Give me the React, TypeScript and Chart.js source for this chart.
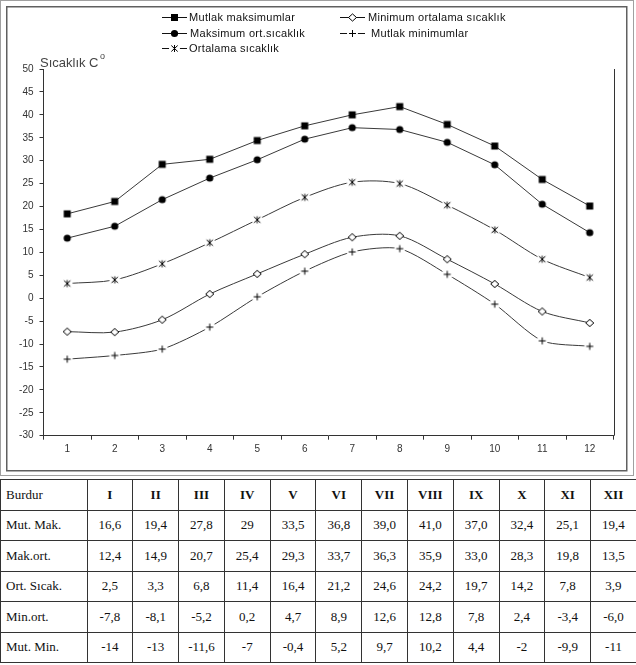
import React, { useEffect, useRef } from "react";
import { Chart, registerables } from "chart.js";

Chart.register(...registerables);

// ---- Chart data ----
const monthNumbers = ["1", "2", "3", "4", "5", "6", "7", "8", "9", "10", "11", "12"];
const mutlakMaksimumlar = [18.4, 21.1, 29.2, 30.3, 34.4, 37.6, 40.0, 41.8, 37.9, 33.2, 25.9, 20.1];
const maksimumOrtSicaklik = [13.1, 15.7, 21.5, 26.2, 30.2, 34.7, 37.2, 36.8, 34.0, 29.1, 20.5, 14.3];
const ortalamaSicaklik = [3.2, 4.0, 7.5, 12.1, 17.1, 22.0, 25.3, 25.0, 20.3, 14.9, 8.5, 4.5];
const minimumOrtalamaSicaklik = [-7.3, -7.4, -4.7, 0.9, 5.3, 9.6, 13.3, 13.6, 8.5, 3.1, -2.9, -5.4];
const mutlakMinimumlar = [-13.3, -12.5, -11.1, -6.3, 0.3, 5.9, 10.1, 10.8, 5.2, -1.3, -9.3, -10.5];

const seriesNames = [
  "Mutlak maksimumlar",
  "Maksimum ort.sıcaklık",
  "Ortalama sıcaklık",
  "Minimum ortalama sıcaklık",
  "Mutlak minimumlar",
];
const yTitle = "Sıcaklık C";
const yTitleSup = "o";

// ---- Table data ----
const tableCorner = "Burdur";
const tableMonths = ["I", "II", "III", "IV", "V", "VI", "VII", "VIII", "IX", "X", "XI", "XII"];
const rowLabels = ["Mut. Mak.", "Mak.ort.", "Ort. Sıcak.", "Min.ort.", "Mut. Min."];
const rowMutMak = ["16,6", "19,4", "27,8", "29", "33,5", "36,8", "39,0", "41,0", "37,0", "32,4", "25,1", "19,4"];
const rowMakOrt = ["12,4", "14,9", "20,7", "25,4", "29,3", "33,7", "36,3", "35,9", "33,0", "28,3", "19,8", "13,5"];
const rowOrtSicak = ["2,5", "3,3", "6,8", "11,4", "16,4", "21,2", "24,6", "24,2", "19,7", "14,2", "7,8", "3,9"];
const rowMinOrt = ["-7,8", "-8,1", "-5,2", "0,2", "4,7", "8,9", "12,6", "12,8", "7,8", "2,4", "-3,4", "-6,0"];
const rowMutMin = ["-14", "-13", "-11,6", "-7", "-0,4", "5,2", "9,7", "10,2", "4,4", "-2", "-9,9", "-11"];

type Kind = "square" | "circle" | "star" | "diamond" | "plus";

function drawMarker(ctx: CanvasRenderingContext2D, kind: Kind, x: number, y: number) {
  ctx.save();
  ctx.lineWidth = 1;
  ctx.strokeStyle = "#000";
  ctx.fillStyle = "#000";
  if (kind === "square") {
    ctx.fillRect(x - 3.5, y - 3.5, 7, 7);
  } else if (kind === "circle") {
    ctx.beginPath();
    ctx.arc(x, y, 3.6, 0, Math.PI * 2);
    ctx.fill();
  } else if (kind === "diamond") {
    ctx.beginPath();
    ctx.moveTo(x - 4, y);
    ctx.lineTo(x, y - 3.6);
    ctx.lineTo(x + 4, y);
    ctx.lineTo(x, y + 3.6);
    ctx.closePath();
    ctx.fillStyle = "#fff";
    ctx.fill();
    ctx.stroke();
  } else if (kind === "star") {
    ctx.fillStyle = "#fff";
    ctx.beginPath();
    ctx.arc(x, y, 5.5, 0, Math.PI * 2);
    ctx.fill();
    ctx.beginPath();
    ctx.moveTo(x - 3.2, y - 3);
    ctx.lineTo(x + 3.2, y + 3);
    ctx.moveTo(x + 3.2, y - 3);
    ctx.lineTo(x - 3.2, y + 3);
    ctx.moveTo(x, y - 3.5);
    ctx.lineTo(x, y + 3.5);
    ctx.stroke();
  } else if (kind === "plus") {
    ctx.fillStyle = "#fff";
    ctx.beginPath();
    ctx.arc(x, y, 5.5, 0, Math.PI * 2);
    ctx.fill();
    ctx.beginPath();
    ctx.moveTo(x - 3.5, y);
    ctx.lineTo(x + 3.5, y);
    ctx.moveTo(x, y - 3.5);
    ctx.lineTo(x, y + 3.5);
    ctx.stroke();
  }
  ctx.restore();
}

function makeMarkerCanvas(kind: Kind): HTMLCanvasElement {
  const c = document.createElement("canvas");
  c.width = 14;
  c.height = 14;
  const ctx = c.getContext("2d")!;
  drawMarker(ctx, kind, 7, 7);
  return c;
}

const kinds: Kind[] = ["square", "circle", "star", "diamond", "plus"];
const tensions = [0, 0, 0.3, 0.3, 0.25];

const legendPos = [
  { x: 162, y: 17.5, tx: 189 },
  { x: 162, y: 33.5, tx: 190 },
  { x: 162, y: 48.5, tx: 189 },
  { x: 340, y: 17.5, tx: 368 },
  { x: 340, y: 33.5, tx: 371 },
];

const decorPlugin = {
  id: "decor",
  beforeDraw(chart: any) {
    const ctx: CanvasRenderingContext2D = chart.ctx;
    ctx.save();
    ctx.fillStyle = "#fff";
    ctx.fillRect(0, 0, chart.width, chart.height);
    ctx.lineWidth = 1;
    ctx.strokeStyle = "#a0a0a0";
    ctx.strokeRect(0.5, 0.5, 633, 475);
    ctx.strokeStyle = "#606060";
    ctx.lineWidth = 1.5;
    ctx.strokeRect(6.75, 6.75, 620, 464);
    ctx.restore();
  },
  afterDraw(chart: any) {
    const ctx: CanvasRenderingContext2D = chart.ctx;
    const area = chart.chartArea;
    ctx.save();
    // right border of plot area
    ctx.strokeStyle = "#333";
    ctx.lineWidth = 1;
    const rx = Math.round(area.right) + 0.5;
    ctx.beginPath();
    ctx.moveTo(rx, area.top);
    ctx.lineTo(rx, area.bottom);
    ctx.stroke();

    // y axis title
    ctx.fillStyle = "#444";
    ctx.textBaseline = "alphabetic";
    ctx.textAlign = "left";
    ctx.font = '13px "Liberation Sans", Arial, sans-serif';
    ctx.fillText(yTitle, 40, 66.5);
    const w = ctx.measureText(yTitle).width;
    ctx.font = '9px "Liberation Sans", Arial, sans-serif';
    ctx.fillText(yTitleSup, 40 + w + 1.5, 59);

    // legend
    const images = chart.$markerImages as HTMLCanvasElement[];
    ctx.font = '11px "Liberation Sans", Arial, sans-serif';
    (ctx as any).letterSpacing = "0.3px";
    ctx.fillStyle = "#111";
    ctx.textBaseline = "middle";
    for (let i = 0; i < seriesNames.length; i++) {
      const p = legendPos[i];
      ctx.strokeStyle = "#111";
      ctx.lineWidth = 1;
      ctx.beginPath();
      ctx.moveTo(p.x, p.y);
      ctx.lineTo(p.x + 25, p.y);
      ctx.stroke();
      drawMarker(ctx, kinds[i], p.x + 12.5, p.y);
      ctx.fillText(seriesNames[i], p.tx, p.y);
    }
    ctx.restore();
  },
};

function ChartBox() {
  const ref = useRef<HTMLCanvasElement>(null);
  useEffect(() => {
    const canvas = ref.current!;
    const markerImages = kinds.map((k) => makeMarkerCanvas(k));
    const series = [mutlakMaksimumlar, maksimumOrtSicaklik, ortalamaSicaklik, minimumOrtalamaSicaklik, mutlakMinimumlar];
    const chart = new Chart(canvas, {
      type: "line",
      data: {
        labels: monthNumbers,
        datasets: series.map((d, i) => ({
          label: seriesNames[i],
          data: d,
          borderColor: "#3a3a3a",
          borderWidth: 1,
          tension: tensions[i],
          pointStyle: markerImages[i] as any,
          pointRadius: 4,
          pointHoverRadius: 4,
          fill: false,
        })),
      },
      options: {
        animation: false,
        responsive: false,
        devicePixelRatio: 1,
        events: [],
        layout: { padding: { top: 69, left: 0, right: 22.5, bottom: 0 } },
        plugins: {
          legend: { display: false },
          title: { display: false },
          tooltip: { enabled: false },
        },
        scales: {
          x: {
            offset: true,
            grid: { offset: true, drawOnChartArea: false, tickLength: 4, color: "#333" },
            border: { color: "#333", width: 1 },
            ticks: {
              color: "#333",
              padding: 4,
              font: { family: '"Liberation Sans", Arial, sans-serif', size: 10 },
              maxRotation: 0,
            },
            afterFit: (s: any) => {
              s.height = 42.3;
            },
          },
          y: {
            min: -30,
            max: 50,
            grid: { drawOnChartArea: false, tickLength: 4, color: "#333" },
            border: { color: "#333", width: 1 },
            ticks: {
              stepSize: 5,
              color: "#333",
              padding: 6,
              font: { family: '"Liberation Sans", Arial, sans-serif', size: 10 },
            },
            afterFit: (s: any) => {
              s.width = 43.5;
            },
          },
        },
      },
      plugins: [decorPlugin],
    });
    (chart as any).$markerImages = markerImages;
    chart.draw();
    return () => chart.destroy();
  }, []);
  return <canvas ref={ref} width={636} height={478} style={{ display: "block", width: 636, height: 478 }} />;
}

const cellBorder = "1px solid #333";

function DataTable() {
  const rows = [rowMutMak, rowMakOrt, rowOrtSicak, rowMinOrt, rowMutMin];
  const tdBase: React.CSSProperties = {
    border: cellBorder,
    padding: 0,
    height: 29.5,
    textAlign: "center",
    verticalAlign: "middle",
    whiteSpace: "nowrap",
  };
  return (
    <table
      style={{
        position: "absolute",
        left: 0,
        top: 479,
        width: 636,
        borderCollapse: "collapse",
        tableLayout: "fixed",
        fontFamily: '"Liberation Serif", "Times New Roman", serif',
        fontSize: 13,
        color: "#111",
      }}
    >
      <colgroup>
        <col style={{ width: 86.5 }} />
        {tableMonths.map((m) => (
          <col key={m} style={{ width: 45.79 }} />
        ))}
      </colgroup>
      <tbody>
        <tr>
          <td style={{ ...tdBase, textAlign: "left", paddingLeft: 5 }}>{tableCorner}</td>
          {tableMonths.map((m) => (
            <td key={m} style={{ ...tdBase, fontWeight: "bold" }}>
              {m}
            </td>
          ))}
        </tr>
        {rows.map((r, i) => (
          <tr key={rowLabels[i]}>
            <td style={{ ...tdBase, textAlign: "left", paddingLeft: 5 }}>{rowLabels[i]}</td>
            {r.map((v, j) => (
              <td key={j} style={tdBase}>
                {v}
              </td>
            ))}
          </tr>
        ))}
      </tbody>
    </table>
  );
}

export default function App() {
  return (
    <div style={{ position: "absolute", left: 0, top: 0, width: 636, height: 665, background: "#fff" }}>
      <ChartBox />
      <DataTable />
    </div>
  );
}
